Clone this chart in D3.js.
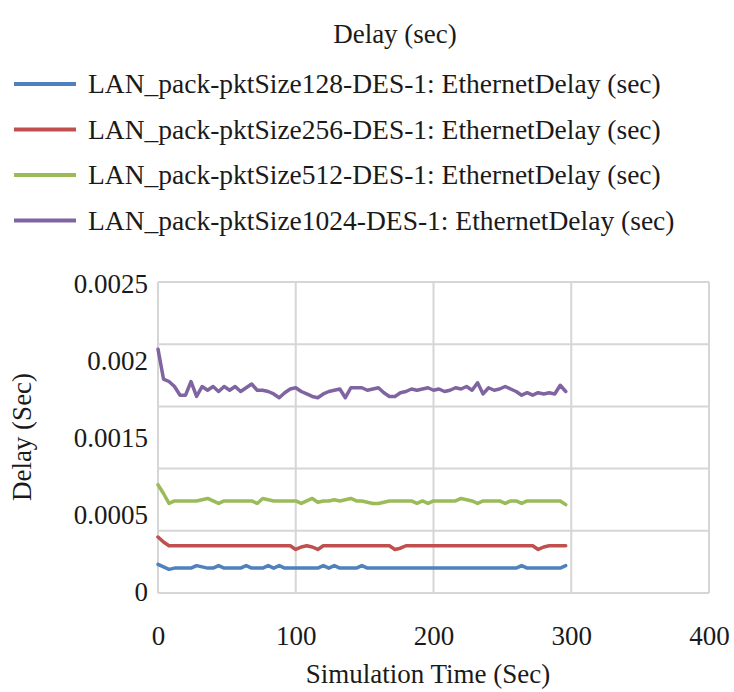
<!DOCTYPE html>
<html>
<head>
<meta charset="utf-8">
<script src="https://cdn.jsdelivr.net/npm/d3@7"></script>
<style>
  html, body { margin: 0; padding: 0; background: #fff; }
  svg { display: block; }
  svg text { font-family: "Liberation Serif", "Times New Roman", Times, "Nimbus Roman", "Nimbus Roman No9 L", FreeSerif, "Noto Serif", "DejaVu Serif", Tinos, Georgia, serif !important; fill: #1a1a1a; }
</style>
</head>
<body>
<svg id="chart" width="734" height="692"></svg>
<script>
const chartTitle = "Delay (sec)";
const xTitle = "Simulation Time (Sec)";
const yTitle = "Delay (Sec)";
const seriesNames = [
  "LAN_pack-pktSize128-DES-1: EthernetDelay (sec)",
  "LAN_pack-pktSize256-DES-1: EthernetDelay (sec)",
  "LAN_pack-pktSize512-DES-1: EthernetDelay (sec)",
  "LAN_pack-pktSize1024-DES-1: EthernetDelay (sec)"
];
const seriesColors = ["#4F81BD", "#C0504D", "#9BBB59", "#8064A2"];
const xTickValues = [0, 100, 200, 300, 400];
const yGridValues = [0, 0.0005, 0.001, 0.0015, 0.002, 0.0025];
const yTickLabels = ["0", "0.0005", "0.0015", "0.002", "0.0025"];

const times = [0,4,8,12,16,20,24,28,32,36,40,44,48,52,56,60,64,68,72,76,80,84,88,92,96,
  100,104,108,112,116,120,124,128,132,136,140,144,148,152,156,160,164,168,172,176,180,184,188,192,196,
  200,204,208,212,216,220,224,228,232,236,240,244,248,252,256,260,264,268,272,276,280,284,288,292,296];

const delay128 = [0.00023,0.00021,0.00019,0.00020,0.00020,0.00020,0.00020,0.00022,0.00021,0.00020,
  0.00020,0.00022,0.00020,0.00020,0.00020,0.00020,0.00022,0.00020,0.00020,0.00020,
  0.00022,0.00020,0.00022,0.00020,0.00020,0.00020,0.00020,0.00020,0.00020,0.00020,
  0.00022,0.00020,0.00022,0.00020,0.00020,0.00020,0.00020,0.00022,0.00020,0.00020,
  0.00020,0.00020,0.00020,0.00020,0.00020,0.00020,0.00020,0.00020,0.00020,0.00020,
  0.00020,0.00020,0.00020,0.00020,0.00020,0.00020,0.00020,0.00020,0.00020,0.00020,
  0.00020,0.00020,0.00020,0.00020,0.00020,0.00020,0.00022,0.00020,0.00020,0.00020,
  0.00020,0.00020,0.00020,0.00020,0.00022];

const delay256 = [0.00045,0.00041,0.00038,0.00038,0.00038,0.00038,0.00038,0.00038,0.00038,0.00038,
  0.00038,0.00038,0.00038,0.00038,0.00038,0.00038,0.00038,0.00038,0.00038,0.00038,
  0.00038,0.00038,0.00038,0.00038,0.00038,0.00035,0.00037,0.00038,0.00037,0.00035,
  0.00038,0.00038,0.00038,0.00038,0.00038,0.00038,0.00038,0.00038,0.00038,0.00038,
  0.00038,0.00038,0.00038,0.00035,0.00036,0.00038,0.00038,0.00038,0.00038,0.00038,
  0.00038,0.00038,0.00038,0.00038,0.00038,0.00038,0.00038,0.00038,0.00038,0.00038,
  0.00038,0.00038,0.00038,0.00038,0.00038,0.00038,0.00038,0.00038,0.00038,0.00035,
  0.00037,0.00038,0.00038,0.00038,0.00038];

const delay512 = [0.00087,0.00080,0.00072,0.00074,0.00074,0.00074,0.00074,0.00074,0.00075,0.00076,
  0.00074,0.00072,0.00074,0.00074,0.00074,0.00074,0.00074,0.00074,0.00072,0.00076,
  0.00075,0.00074,0.00074,0.00074,0.00074,0.00074,0.00072,0.00074,0.00076,0.00073,
  0.00074,0.00074,0.00075,0.00074,0.00075,0.00076,0.00074,0.00074,0.00073,0.00072,
  0.00072,0.00073,0.00074,0.00074,0.00074,0.00074,0.00074,0.00072,0.00074,0.00072,
  0.00074,0.00074,0.00074,0.00074,0.00074,0.00076,0.00075,0.00074,0.00072,0.00074,
  0.00074,0.00074,0.00074,0.00072,0.00074,0.00074,0.00072,0.00074,0.00074,0.00074,
  0.00074,0.00074,0.00074,0.00074,0.00071];

const delay1024 = [0.00196,0.00172,0.00170,0.00166,0.00159,0.00159,0.00170,0.00158,0.00166,0.00163,
  0.00166,0.00162,0.00166,0.00163,0.00166,0.00162,0.00165,0.00168,0.00163,0.00163,
  0.00162,0.00160,0.00157,0.00161,0.00164,0.00165,0.00162,0.00160,0.00158,0.00157,
  0.00160,0.00162,0.00163,0.00164,0.00157,0.00165,0.00165,0.00165,0.00163,0.00164,
  0.00165,0.00161,0.00158,0.00158,0.00161,0.00162,0.00164,0.00163,0.00164,0.00165,
  0.00163,0.00164,0.00162,0.00163,0.00165,0.00164,0.00166,0.00163,0.00169,0.00160,
  0.00165,0.00163,0.00164,0.00166,0.00164,0.00162,0.00159,0.00161,0.00159,0.00161,
  0.00160,0.00161,0.00160,0.00167,0.00162];

const seriesValues = [delay128, delay256, delay512, delay1024];

const svg = d3.select("#chart");
const plot = { left: 158, right: 709, top: 282, bottom: 593 };

const x = d3.scaleLinear().domain([0, 400]).range([plot.left, plot.right]);
const y = d3.scaleLinear().domain([0, 0.0025]).range([plot.bottom, plot.top]);
const yLabelScale = d3.scalePoint().domain(yTickLabels).range([592, 284]);

// Title
svg.append("text")
  .attr("x", 395).attr("y", 43)
  .attr("text-anchor", "middle")
  .style("font-size", "27px")
  .text(chartTitle);

// Legend
const legend = svg.append("g");
seriesNames.forEach((name, i) => {
  const ly = 84 + i * 45.5;
  legend.append("line")
    .attr("x1", 14).attr("x2", 76)
    .attr("y1", ly).attr("y2", ly)
    .attr("stroke", seriesColors[i])
    .attr("stroke-width", 4);
  legend.append("text")
    .attr("x", 88).attr("y", ly + 9)
    .style("font-size", "27.5px")
    .text(name);
});

// Grid
const grid = svg.append("g").attr("stroke", "#d6d6d6").attr("stroke-width", 2);
grid.selectAll("line.h").data(yGridValues).join("line")
  .attr("class", "h")
  .attr("x1", plot.left).attr("x2", plot.right)
  .attr("y1", d => y(d)).attr("y2", d => y(d));
grid.selectAll("line.v").data(xTickValues).join("line")
  .attr("class", "v")
  .attr("x1", d => x(d)).attr("x2", d => x(d))
  .attr("y1", plot.top).attr("y2", plot.bottom);

// Axes (labels only)
const xAxis = svg.append("g")
  .attr("transform", `translate(0,${plot.bottom})`)
  .call(d3.axisBottom(x).tickValues(xTickValues).tickSize(0).tickPadding(33).tickFormat(d3.format("d")));
xAxis.select(".domain").remove();
xAxis.selectAll("text").style("font-size", "27px");

const yAxis = svg.append("g")
  .attr("transform", `translate(${plot.left},0)`)
  .call(d3.axisLeft(yLabelScale).tickSize(0).tickPadding(10));
yAxis.select(".domain").remove();
yAxis.selectAll("text").style("font-size", "27px");

// Axis titles
svg.append("text")
  .attr("x", 428).attr("y", 683)
  .attr("text-anchor", "middle")
  .style("font-size", "27px")
  .text(xTitle);
svg.append("text")
  .attr("transform", "translate(31,437) rotate(-90)")
  .attr("text-anchor", "middle")
  .style("font-size", "27px")
  .text(yTitle);

// Lines
const line = d3.line()
  .x((d, i) => x(times[i]))
  .y(d => y(d));
svg.append("g").selectAll("path").data(seriesValues).join("path")
  .attr("fill", "none")
  .attr("stroke", (d, i) => seriesColors[i])
  .attr("stroke-width", 3.5)
  .attr("stroke-linejoin", "round")
  .attr("stroke-linecap", "round")
  .attr("d", line);
</script>
</body>
</html>
